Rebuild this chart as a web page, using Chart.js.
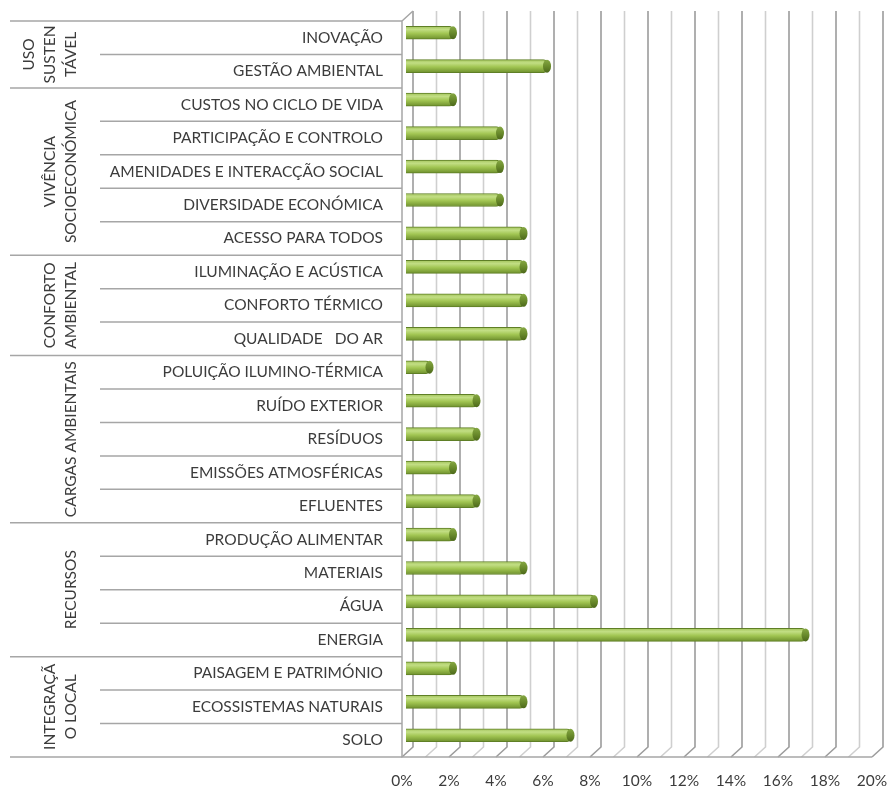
<!DOCTYPE html>
<html>
<head>
<meta charset="utf-8">
<script src="https://cdn.jsdelivr.net/npm/chart.js@4/dist/chart.umd.min.js"></script>
<style>
  html, body { margin: 0; padding: 0; background: #fff; }
  #wrap { width: 889px; height: 794px; position: relative; }
</style>
</head>
<body>
<div id="wrap"><canvas id="chart"></canvas></div>
<script>
// categories top to bottom
const categories = [
    'INOVAÇÃO', 'GESTÃO AMBIENTAL',
    'CUSTOS NO CICLO DE VIDA', 'PARTICIPAÇÃO E CONTROLO', 'AMENIDADES E INTERACÇÃO SOCIAL',
    'DIVERSIDADE ECONÓMICA', 'ACESSO PARA TODOS',
    'ILUMINAÇÃO E ACÚSTICA', 'CONFORTO TÉRMICO', 'QUALIDADE   DO AR',
    'POLUIÇÃO ILUMINO-TÉRMICA', 'RUÍDO EXTERIOR', 'RESÍDUOS', 'EMISSÕES ATMOSFÉRICAS', 'EFLUENTES',
    'PRODUÇÃO ALIMENTAR', 'MATERIAIS', 'ÁGUA', 'ENERGIA',
    'PAISAGEM E PATRIMÓNIO', 'ECOSSISTEMAS NATURAIS', 'SOLO'
];
const values = [2, 6, 2, 4, 4, 4, 5, 5, 5, 5, 1, 3, 3, 2, 3, 2, 5, 8, 17, 2, 5, 7];

const groupLabels = [
    ['USO', 'SUSTEN', 'TÁVEL'],
    ['VIVÊNCIA', 'SOCIOECONÓMICA'],
    ['CONFORTO', 'AMBIENTAL'],
    ['CARGAS AMBIENTAIS'],
    ['RECURSOS'],
    ['INTEGRAÇÃ', 'O LOCAL']
];
const groupSizes = [2, 5, 3, 5, 4, 3];

const xMin = 0, xMax = 20, xStep = 2;

const FONT = 'Lato, "Open Sans", sans-serif';
const FSIZE = 15.5;
const TEXT = '#3c3c3c';
const LINE = '#a6a6a6';

// 3D offsets relative to the bar plane
const FRONT = { dx: -4, dy: 5 };
const BACK = { dx: 7, dy: -5 };

const frame3d = {
    id: 'frame3d',
    beforeDatasetsDraw(chart) {
        const ctx = chart.ctx;
        const xs = chart.scales.x, ys = chart.scales.y;
        const top = ys.top, bottom = ys.bottom;
        const pitch = (bottom - top) / categories.length;
        ctx.save();

        // back wall + floor grid
        for (let v = xMin; v <= xMax; v++) {
            const px = xs.getPixelForValue(v);
            ctx.strokeStyle = v % 2 === 0 ? '#9c9c9c' : '#cfcfcf';
            ctx.lineWidth = 1.6;
            ctx.beginPath();
            ctx.moveTo(px + BACK.dx, top + BACK.dy);
            ctx.lineTo(px + BACK.dx, bottom + BACK.dy);
            ctx.lineTo(px + FRONT.dx, bottom + FRONT.dy);
            ctx.stroke();
        }

        ctx.strokeStyle = LINE;
        ctx.lineWidth = 1.5;
        const x0 = xs.getPixelForValue(xMin);
        const xEnd = xs.getPixelForValue(xMax);
        // left wall
        ctx.beginPath();
        ctx.moveTo(x0 + FRONT.dx, top + FRONT.dy);
        ctx.lineTo(x0 + BACK.dx, top + BACK.dy);
        ctx.moveTo(x0 + FRONT.dx, top + FRONT.dy);
        ctx.lineTo(x0 + FRONT.dx, bottom + FRONT.dy);
        // floor front edge
        ctx.lineTo(xEnd + FRONT.dx, bottom + FRONT.dy);
        ctx.stroke();

        // table of categories
        const tableLeft = 10, innerLeft = 100, tableRight = x0 + FRONT.dx;
        const yAt = k => top + k * pitch + FRONT.dy;
        ctx.beginPath();
        let k = 0;
        ctx.moveTo(tableLeft, yAt(0));
        ctx.lineTo(tableRight, yAt(0));
        groupSizes.forEach(size => {
            for (let j = 1; j < size; j++) {
                ctx.moveTo(innerLeft, yAt(k + j));
                ctx.lineTo(tableRight, yAt(k + j));
            }
            k += size;
            ctx.moveTo(tableLeft, yAt(k));
            ctx.lineTo(tableRight, yAt(k));
        });
        ctx.stroke();

        // group labels, rotated
        ctx.fillStyle = TEXT;
        ctx.font = FSIZE + 'px ' + FONT;
        ctx.textAlign = 'center';
        ctx.textBaseline = 'middle';
        k = 0;
        groupSizes.forEach((size, g) => {
            const cy = (yAt(k) + yAt(k + size)) / 2;
            const lines = groupLabels[g];
            lines.forEach((txt, j) => {
                const cx = 71 - (lines.length - 1 - j) * 21;
                ctx.save();
                ctx.translate(cx, cy);
                ctx.rotate(-Math.PI / 2);
                ctx.fillText(txt, 0, 0);
                ctx.restore();
            });
            k += size;
        });

        // cylinder shading for the bars
        const meta = chart.getDatasetMeta(0);
        meta.data.forEach(el => {
            const h = el.height;
            const g = ctx.createLinearGradient(0, el.y - h / 2, 0, el.y + h / 2);
            g.addColorStop(0, '#a3c45c');
            g.addColorStop(0.25, '#c2de84');
            g.addColorStop(0.55, '#a2c653');
            g.addColorStop(1, '#6e902d');
            el.options = Object.assign({}, el.options, { backgroundColor: g });
        });
        ctx.restore();
    },
    afterDatasetsDraw(chart) {
        // rounded end of each cylinder
        const ctx = chart.ctx;
        const meta = chart.getDatasetMeta(0);
        ctx.save();
        meta.data.forEach(el => {
            const h = el.height;
            const g = ctx.createLinearGradient(0, el.y - h / 2, 0, el.y + h / 2);
            g.addColorStop(0, '#86a843');
            g.addColorStop(0.5, '#6a8b2c');
            g.addColorStop(1, '#4c681a');
            ctx.fillStyle = g;
            ctx.beginPath();
            ctx.ellipse(el.x, el.y, 4, h / 2, 0, 0, Math.PI * 2);
            ctx.fill();
        });
        ctx.restore();
    }
};

const chart = new Chart(document.getElementById('chart'), {
    type: 'bar',
    data: {
        labels: categories,
        datasets: [{
            data: values,
            backgroundColor: '#9bbb59',
            borderColor: '#5f7f26',
            borderWidth: 1,
            borderSkipped: 'start',
            borderRadius: { topRight: 4, bottomRight: 4 },
            barThickness: 13
        }]
    },
    options: {
        indexAxis: 'y',
        responsive: true,
        maintainAspectRatio: false,
        animation: false,
        layout: { padding: { top: 16, right: 13, bottom: 4, left: 0 } },
        plugins: {
            legend: { display: false },
            tooltip: { enabled: false }
        },
        scales: {
            x: {
                min: xMin,
                max: xMax,
                grid: { display: false, drawTicks: false },
                border: { display: false },
                afterFit: scale => {
                    scale.height = 38;
                    scale.paddingLeft = 0;
                    scale.paddingRight = 0;
                },
                ticks: {
                    stepSize: xStep,
                    padding: 20,
                    labelOffset: -4,
                    color: TEXT,
                    font: { family: FONT, size: FSIZE },
                    callback: v => v + '%'
                }
            },
            y: {
                grid: { display: false, drawTicks: false },
                border: { display: false },
                afterFit: scale => {
                    scale.width = 406;
                    scale.paddingTop = 0;
                    scale.paddingBottom = 0;
                },
                ticks: {
                    padding: 23,
                    labelOffset: 5,
                    autoSkip: false,
                    color: TEXT,
                    font: { family: FONT, size: FSIZE }
                }
            }
        }
    },
    plugins: [frame3d]
});
</script>
</body>
</html>
